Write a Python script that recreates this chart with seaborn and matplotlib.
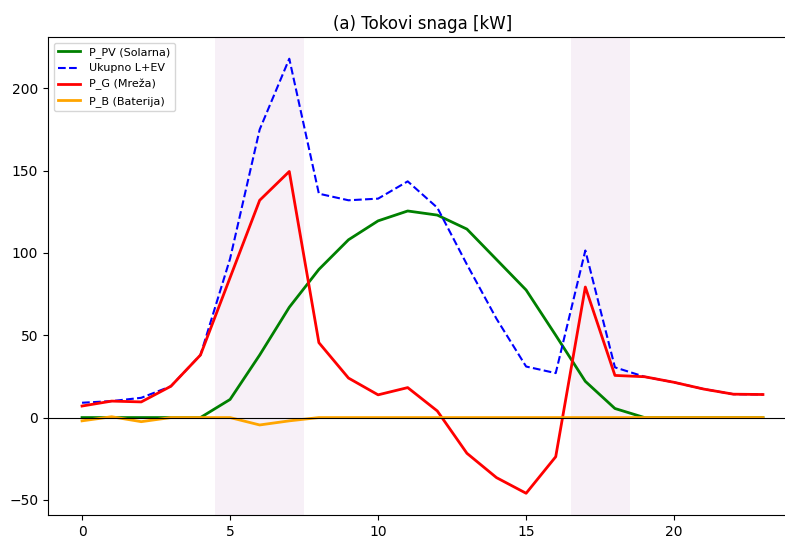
import matplotlib
matplotlib.use("Agg")
import matplotlib.pyplot as plt
import seaborn as sns
import numpy as np
import pandas as pd

hours = list(range(24))
p_pv = [0, 0, 0, 0, 0, 11, 38, 67, 90, 108, 119.5, 125.5, 123, 114.5, 96, 77.5, 50, 22, 5.5, 0, 0, 0, 0, 0]
p_g = [7, 10, 9.5, 19, 38, 85, 132, 149.5, 45.5, 24, 13.8, 18.2, 4, -21.7, -36.5, -46, -23.8, 79.3, 25.6, 24.8, 21.4, 17.3, 14.2, 14]
p_b = [-2, 0.5, -2.5, 0, 0, 0, -4.5, -2, 0, 0, 0, 0, 0, 0, 0, 0, 0, 0, 0, 0, 0, 0, 0, 0]
total = [9, 10, 12, 19, 38, 96.5, 175, 218, 136, 132, 133, 143.5, 127.5, 93, 60, 31, 27, 101.5, 30.5, 24.8, 21.4, 17.3, 14.2, 14]
peak_windows = [(4.5, 7.5), (16.5, 18.5)]

df = pd.DataFrame({"h": hours, "pv": p_pv, "g": p_g, "b": p_b, "tot": total})

fig = plt.figure(figsize=(7.85, 5.36), dpi=100)
ax = fig.add_axes([48/785, 21/536, 749/785, 478/536])

for a, b in peak_windows:
    ax.axvspan(a, b, color="purple", alpha=0.06, lw=0)

sns.lineplot(data=df, x="h", y="pv", ax=ax, color="green", lw=2, label="P_PV (Solarna)")
sns.lineplot(data=df, x="h", y="tot", ax=ax, color="blue", lw=1.5, linestyle="--", label="Ukupno L+EV")
sns.lineplot(data=df, x="h", y="g", ax=ax, color="red", lw=2, label="P_G (Mreža)")
sns.lineplot(data=df, x="h", y="b", ax=ax, color="orange", lw=2, label="P_B (Baterija)")
ax.axhline(0, color="black", lw=0.8)

ax.spines["right"].set_visible(False)
ax.set_xlabel("")
ax.set_ylabel("")
ax.set_title("(a) Tokovi snaga [kW]", fontsize=12)
ax.set_xticks([0, 5, 10, 15, 20])
ax.legend(loc="upper left", fontsize=8)

fig.savefig("out.png", dpi=100)
